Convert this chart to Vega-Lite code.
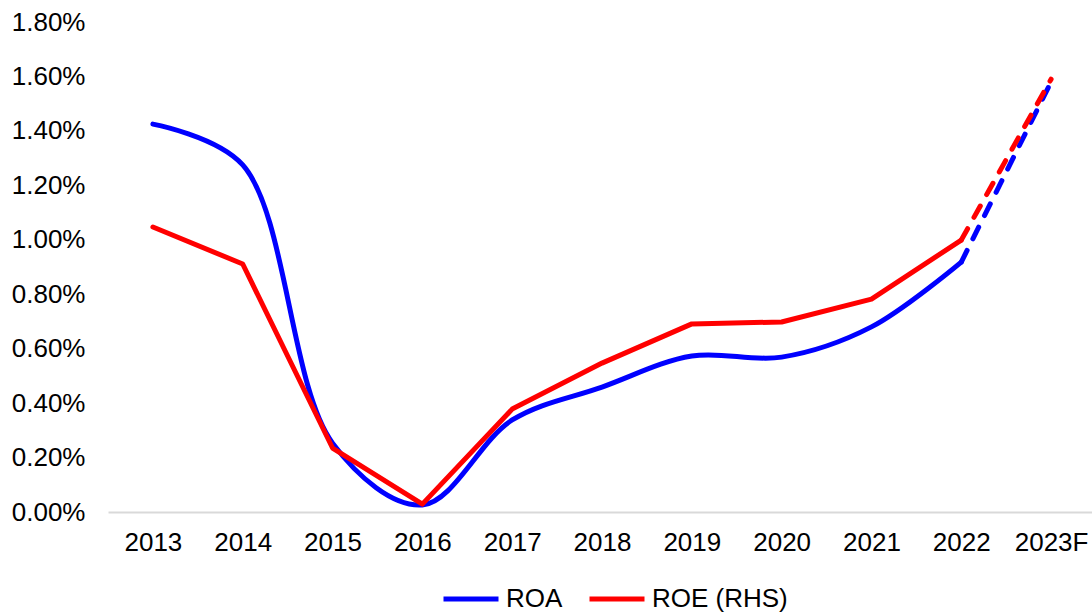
{
  "$schema": "https://vega.github.io/schema/vega-lite/v6.json",
  "autosize": {"type": "none"},
  "padding": {"left": 108, "top": 22, "right": 0, "bottom": 100},
  "width": 988,
  "height": 490,
  "background": "white",
  "config": {
    "view": {"stroke": null},
    "font": "Liberation Sans",
    "axis": {"labelFont": "Liberation Sans", "labelFontSize": 26, "labelColor": "#000000", "grid": false, "ticks": false, "title": null},
    "legend": {"labelFont": "Liberation Sans", "labelFontSize": 26, "labelColor": "#000000"}
  },
  "data": {
    "values": [
      {"year": "2013", "series": "ROA", "value": 0.01425},
      {"year": "2014", "series": "ROA", "value": 0.01275},
      {"year": "2015", "series": "ROA", "value": 0.00253},
      {"year": "2016", "series": "ROA", "value": 0.00026},
      {"year": "2017", "series": "ROA", "value": 0.00338},
      {"year": "2018", "series": "ROA", "value": 0.00459},
      {"year": "2019", "series": "ROA", "value": 0.00573},
      {"year": "2020", "series": "ROA", "value": 0.00569},
      {"year": "2021", "series": "ROA", "value": 0.0068},
      {"year": "2022", "series": "ROA", "value": 0.00918},
      {"year": "2023F", "series": "ROA", "value": 0.0158},
      {"year": "2013", "series": "ROE (RHS)", "value": 0.01047},
      {"year": "2014", "series": "ROE (RHS)", "value": 0.00911},
      {"year": "2015", "series": "ROE (RHS)", "value": 0.00235},
      {"year": "2016", "series": "ROE (RHS)", "value": 0.00029},
      {"year": "2017", "series": "ROE (RHS)", "value": 0.00378},
      {"year": "2018", "series": "ROE (RHS)", "value": 0.00547},
      {"year": "2019", "series": "ROE (RHS)", "value": 0.00691},
      {"year": "2020", "series": "ROE (RHS)", "value": 0.00698},
      {"year": "2021", "series": "ROE (RHS)", "value": 0.00782},
      {"year": "2022", "series": "ROE (RHS)", "value": 0.00999},
      {"year": "2023F", "series": "ROE (RHS)", "value": 0.0159}
    ]
  },
  "encoding": {
    "x": {
      "field": "year", "type": "ordinal", "sort": null,
      "scale": {"type": "point", "padding": 0.5},
      "axis": {"labelAngle": 0, "labelPadding": 17, "domainColor": "#d9d9d9", "domainWidth": 2}
    },
    "y": {
      "field": "value", "type": "quantitative",
      "scale": {"domain": [0, 0.018], "nice": false, "zero": true},
      "axis": {"format": ".2%", "values": [0, 0.002, 0.004, 0.006, 0.008, 0.01, 0.012, 0.014, 0.016, 0.018], "domain": false, "labelPadding": 23}
    },
    "color": {
      "field": "series", "type": "nominal",
      "scale": {"domain": ["ROA", "ROE (RHS)"], "range": ["#0000FF", "#FF0000"]},
      "legend": {
        "title": null, "orient": "none", "direction": "horizontal",
        "legendX": 333, "legendY": 547,
        "symbolType": "stroke", "symbolSize": 3025, "symbolStrokeWidth": 5,
        "labelOffset": 5, "columnPadding": 16, "padding": 0
      }
    }
  },
  "layer": [
    {
      "transform": [{"filter": "datum.series === 'ROA' && datum.year !== '2023F'"}],
      "mark": {"type": "line", "interpolate": "catmull-rom", "strokeWidth": 5, "strokeCap": "round", "strokeJoin": "round"}
    },
    {
      "transform": [{"filter": "datum.series === 'ROE (RHS)' && datum.year !== '2023F'"}],
      "mark": {"type": "line", "interpolate": "linear", "strokeWidth": 5, "strokeCap": "round", "strokeJoin": "round"}
    },
    {
      "transform": [{"filter": "datum.year === '2022' || datum.year === '2023F'"}],
      "mark": {"type": "line", "interpolate": "linear", "strokeWidth": 5, "strokeCap": "round", "strokeDash": [13, 13]}
    }
  ]
}
